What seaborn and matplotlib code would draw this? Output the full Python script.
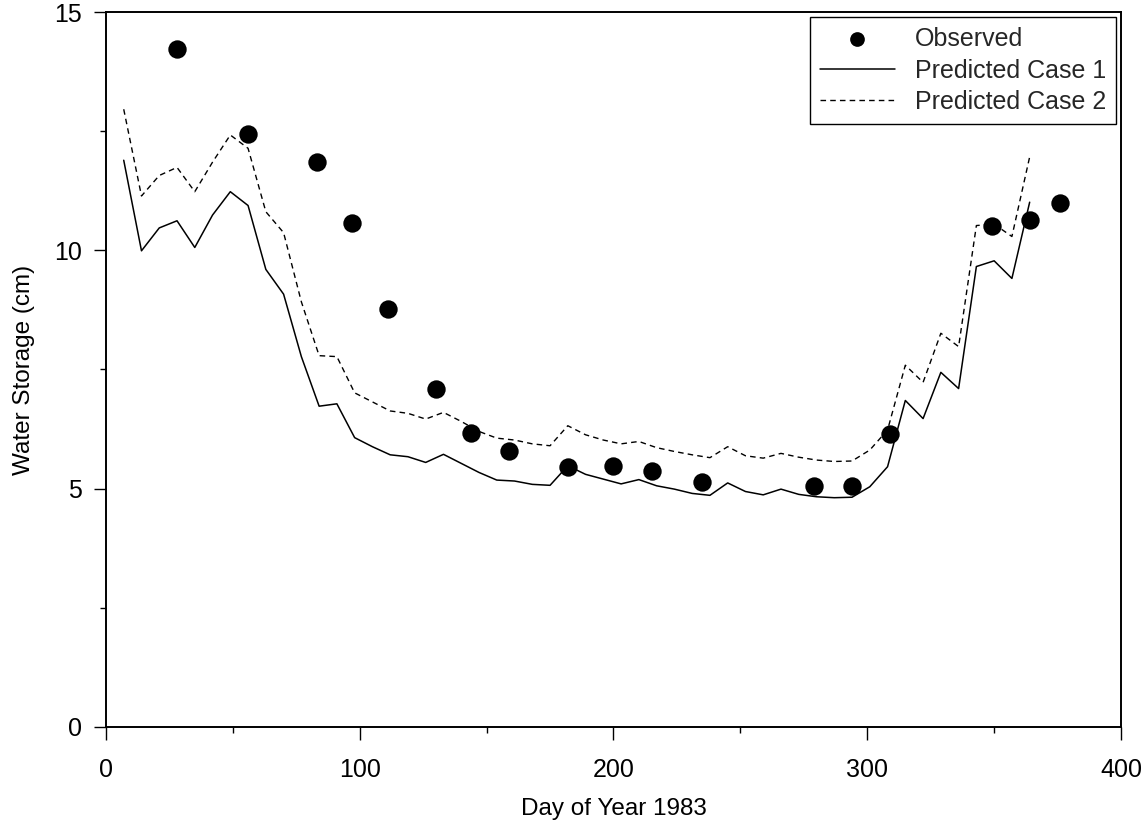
import numpy as np
import pandas as pd
import matplotlib
matplotlib.use("Agg")
import matplotlib.pyplot as plt
from matplotlib.ticker import MultipleLocator
import seaborn as sns

# Weekly model output (day of year 7 .. 364)
pred_days = list(range(7, 365, 7))
pred_case1 = [
    11.89, 9.99, 10.47, 10.62, 10.06, 10.74, 11.23, 10.94, 9.60, 9.08,
    7.77, 6.73, 6.78, 6.07, 5.88, 5.71, 5.67, 5.55, 5.72, 5.53,
    5.34, 5.18, 5.16, 5.09, 5.07, 5.48, 5.30, 5.20, 5.10, 5.19,
    5.06, 4.99, 4.90, 4.86, 5.12, 4.94, 4.87, 4.99, 4.88, 4.83,
    4.81, 4.82, 5.04, 5.46, 6.85, 6.47, 7.44, 7.10, 9.66, 9.78,
    9.41, 11.01,
]
pred_case2 = [
    12.96, 11.14, 11.57, 11.74, 11.23, 11.85, 12.42, 12.14, 10.81, 10.37,
    8.92, 7.79, 7.77, 7.01, 6.82, 6.63, 6.58, 6.46, 6.60, 6.41,
    6.20, 6.06, 6.02, 5.94, 5.90, 6.32, 6.13, 6.02, 5.94, 5.99,
    5.86, 5.78, 5.71, 5.65, 5.88, 5.69, 5.64, 5.74, 5.66, 5.60,
    5.57, 5.58, 5.81, 6.23, 7.59, 7.23, 8.26, 7.98, 10.52, 10.55,
    10.29, 11.96,
]

# Field measurements
obs_days = [28, 56, 83, 97, 111, 130, 144, 159, 182, 200, 215, 235, 279, 294, 309, 349, 364, 376]
obs_storage = [14.22, 12.45, 11.86, 10.57, 8.77, 7.10, 6.16, 5.80, 5.46, 5.48,
               5.36, 5.15, 5.05, 5.06, 6.15, 10.50, 10.63, 11.00]

pred = pd.DataFrame({"day": pred_days, "case1": pred_case1, "case2": pred_case2})
obs = pd.DataFrame({"day": obs_days, "storage": obs_storage})

sns.set_theme(style="ticks")
plt.rcParams["font.family"] = ["Liberation Sans", "DejaVu Sans"]

fig = plt.figure(figsize=(11.48, 8.22), dpi=100)
ax = fig.add_axes([0.0923, 0.1156, 0.8842, 0.8698])

sns.scatterplot(data=obs, x="day", y="storage", ax=ax, color="black",
                s=175, edgecolor="black", linewidth=0, label="Observed", zorder=3)
sns.lineplot(data=pred, x="day", y="case1", ax=ax, color="black",
             linewidth=1.1, label="Predicted Case 1")
sns.lineplot(data=pred, x="day", y="case2", ax=ax, color="black",
             linewidth=1.0, label="Predicted Case 2")
ax.lines[-1].set_dashes((4, 3))

ax.set_xlim(0, 400)
ax.set_ylim(0, 15)
ax.xaxis.set_major_locator(MultipleLocator(100))
ax.xaxis.set_minor_locator(MultipleLocator(50))
ax.yaxis.set_major_locator(MultipleLocator(5))
ax.yaxis.set_minor_locator(MultipleLocator(2.5))

for side in ["left", "right", "top", "bottom"]:
    ax.spines[side].set_visible(True)
    ax.spines[side].set_color("black")
    ax.spines[side].set_linewidth(1.4)

ax.tick_params(axis="both", which="major", direction="out", length=9, width=1.0,
               color="black", labelsize=18, labelcolor="black")
ax.tick_params(axis="both", which="minor", direction="out", length=4.5, width=1.0,
               color="black")
ax.tick_params(axis="x", which="major", pad=13.5)
ax.tick_params(axis="y", which="major", pad=8)
ax.tick_params(top=False, right=False, which="both")

ax.set_xlabel("Day of Year 1983", fontsize=17.5, color="black", labelpad=11.5)
ax.set_ylabel("Water Storage (cm)", fontsize=17.5, color="black", labelpad=14)

leg = ax.legend(loc="upper right", fontsize=18, frameon=True, fancybox=False,
                edgecolor="black", framealpha=1, borderpad=0.4,
                labelspacing=0.3, handlelength=3.0, handletextpad=0.8,
                borderaxespad=0.2, markerscale=0.8)
leg.get_frame().set_linewidth(1.0)

fig.savefig("out.png", dpi=100, facecolor="white")
